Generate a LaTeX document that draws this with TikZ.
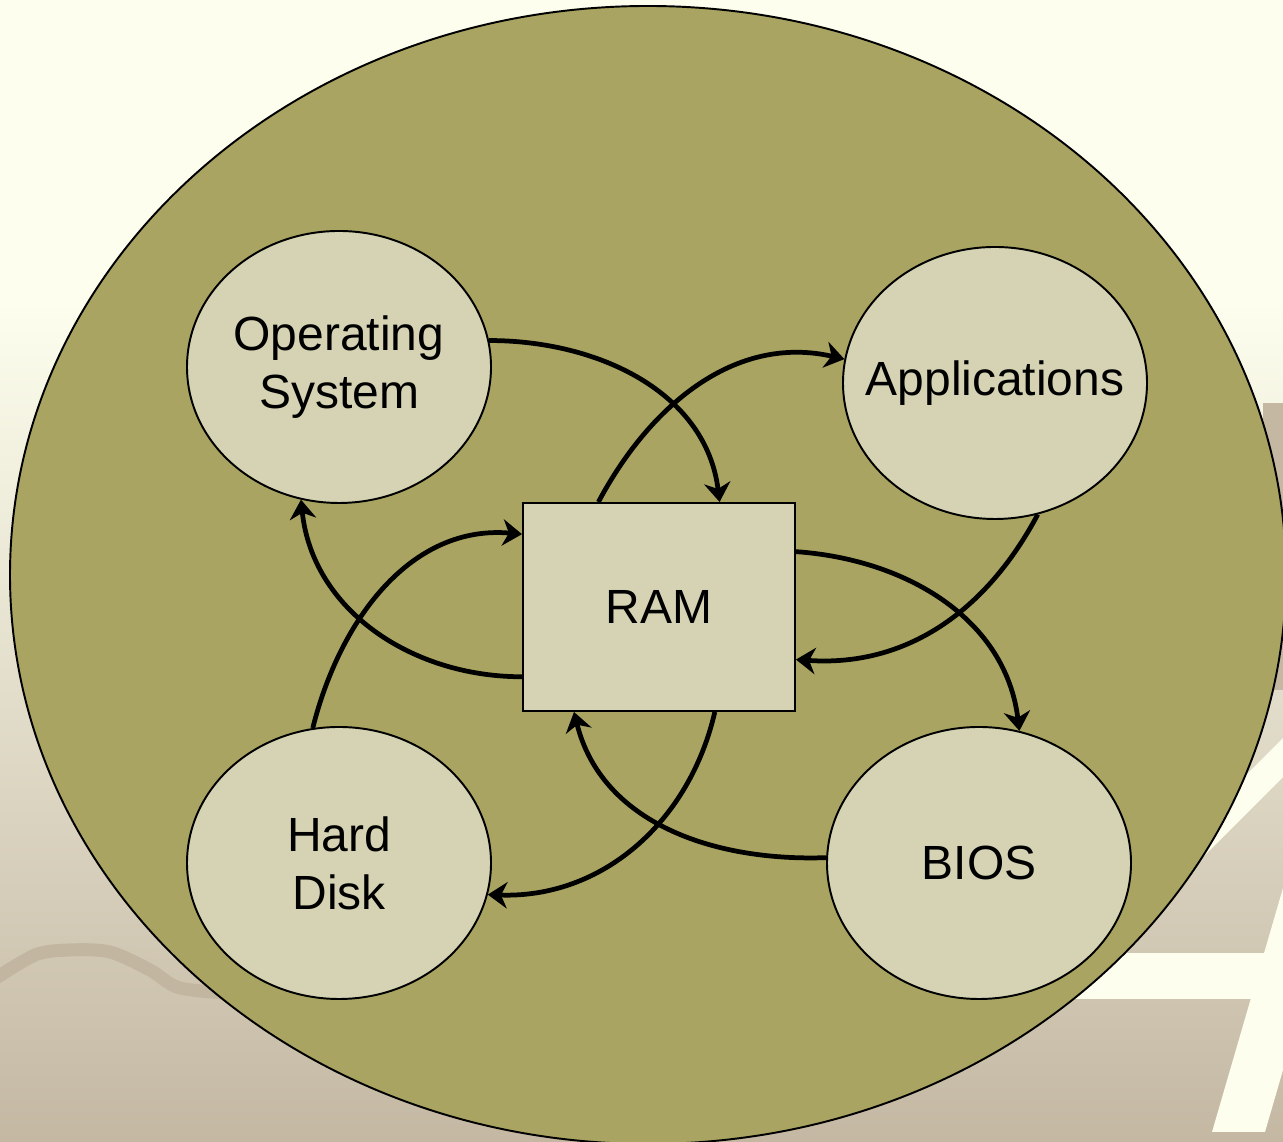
\documentclass[tikz,border=0pt]{standalone}
\usepackage{fontspec}
\setmainfont{Liberation Sans}
\usetikzlibrary{shapes.geometric, arrows.meta}

\definecolor{cream}{HTML}{FDFEEE}
\definecolor{sand}{HTML}{C4B8A3}
\definecolor{wavecol}{HTML}{C3B6A1}
\definecolor{bigolive}{HTML}{A9A461}
\definecolor{pale}{HTML}{D5D3B3}

\begin{document}
\begin{tikzpicture}[
    part/.style={ellipse, draw, line width=1.1pt, fill=pale, align=center, minimum width=6.08cm, minimum height=5.44cm, inner sep=-0.5cm, font=\fontsize{27.3}{33}\selectfont},
    mem/.style={rectangle, draw, line width=1.1pt, fill=pale, minimum width=5.44cm, minimum height=4.16cm, font=\fontsize{27.3}{33}\selectfont},
    flow/.style={-{Stealth[length=11pt, width=15pt, inset=3.5pt]}, line width=2.7pt}
]
    \useasboundingbox (0,0) rectangle (25.66,22.84);
    \fill[cream] (0,0) rectangle (25.66,22.84);
    \shade[top color=cream, bottom color=sand] (0,0) rectangle (25.66,16.84);

    \fill[sand] (25.26,14.78) rectangle (25.66,9.04);
    \fill[cream] (25.66,8.08) -- (25.66,7.3) -- (23.0,4.64) -- (23.0,5.42) -- cycle;
    \fill[cream] (20.0,3.78) rectangle (25.66,2.86);
    \fill[cream] (25.66,5.08) -- (24.24,0.2) -- (25.3,0.2) -- (25.66,1.44) -- cycle;
    \draw[wavecol, line width=0.26cm] plot[smooth] coordinates {(-0.2,3.2) (0.7,3.74) (1.4,3.84) (2.2,3.8) (3.0,3.44) (3.6,3.08) (4.8,2.96)};

    \draw[fill=bigolive, line width=1.1pt] (12.96,11.34) ellipse [x radius=12.76, y radius=11.38];

    \node[mem] (ram) at (13.18,10.7) {RAM};
    \node[part] (os) at (6.78,15.5) {Operating\\System};
    \node[part] (apps) at (19.9,15.18) {Applications};
    \node[part] (hd) at (6.78,5.58) {Hard\\Disk};
    \node[part] (bios) at (19.58,5.58) {BIOS};

    \draw[flow] (os.10) to[out=0, in=97] (ram.60);
    \draw[flow] (ram.120) to[out=62, in=167] (apps.171);
    \draw[flow] (apps.-72) to[out=-118, in=-4] (ram.-21);
    \draw[flow] (ram.22) to[out=-4, in=97] (bios.73);
    \draw[flow] (bios.178) to[out=182, in=-76] (ram.-129);
    \draw[flow] (ram.-62) to[out=-103, in=-2] (hd.-12);
    \draw[flow] (hd.101) to[out=76, in=175] (ram.152);
    \draw[flow] (ram.-153) to[out=180, in=-84] (os.-106);
\end{tikzpicture}
\end{document}
